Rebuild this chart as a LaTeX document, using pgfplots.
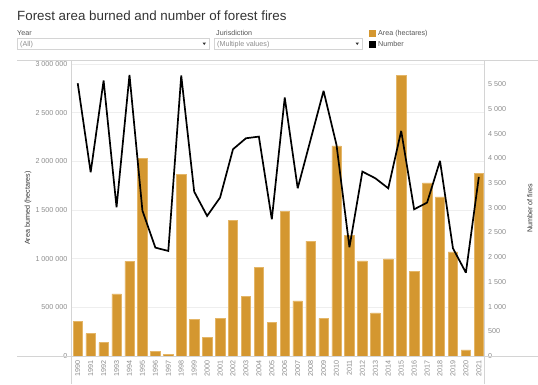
\documentclass[border=0pt]{standalone}
\usepackage{fontspec}
\setmainfont{Liberation Sans}
\usepackage{pgfplots}
\pgfplotsset{compat=1.18}
\definecolor{barc}{RGB}{212,151,48}
\definecolor{baredge}{RGB}{228,182,104}
\definecolor{tickc}{RGB}{140,140,140}
\definecolor{gridc}{RGB}{238,238,238}
\definecolor{axc}{RGB}{212,212,212}
\definecolor{titc}{RGB}{51,51,51}
\definecolor{labc}{RGB}{85,85,85}
\newcommand{\sm}{\fontsize{7.2}{8}\selectfont}
\begin{document}
\begin{tikzpicture}[x=1bp,y=1bp]
\useasboundingbox (0,0) rectangle (538,384);
% title
\node[anchor=base west, font=\fontsize{13.4}{14}\selectfont, text=titc, inner sep=0] at (17,384-20) {Forest area burned and number of forest fires};
% filters
\node[anchor=base west, font=\sm, text=labc, inner sep=0] at (17,384-35) {Year};
\draw[axc, line width=0.6bp] (17,384-38) rectangle (209,384-49);
\node[anchor=base west, font=\sm, text=tickc, inner sep=0] at (20,384-46.3) {(All)};
\fill[titc] (202.5,384-42.5) -- (206,384-42.5) -- (204.25,384-45) -- cycle;
\node[anchor=base west, font=\sm, text=labc, inner sep=0] at (216,384-35) {Jurisdiction};
\draw[axc, line width=0.6bp] (214,384-38) rectangle (362,384-49);
\node[anchor=base west, font=\sm, text=tickc, inner sep=0] at (217,384-46.3) {(Multiple values)};
\fill[titc] (355.5,384-42.5) -- (359,384-42.5) -- (357.25,384-45) -- cycle;
% legend
\fill[barc] (369,384-30) rectangle (376,384-37);
\node[anchor=base west, font=\sm, text=labc, inner sep=0] at (378,384-35.5) {Area (hectares)};
\fill[black] (369,384-41) rectangle (376,384-48);
\node[anchor=base west, font=\sm, text=labc, inner sep=0] at (378,384-46.5) {Number};

\begin{axis}[
  at={(71bp,28bp)}, anchor=south west, scale only axis,
  width=413bp, height=296bp,
  xmin=1989.48, xmax=2021.4, ymin=0, ymax=3040000,
  axis line style={draw=none}, major tick length=0pt,
  xtick={1990,...,2021},
  xticklabel style={font=\sm, text=tickc, inner sep=0pt, rotate=90, anchor=east, /pgf/number format/1000 sep={}},
  xticklabel shift=4bp,
  ytick={0,500000,...,3000000},
  scaled y ticks=false,
  yticklabel style={font=\sm, text=tickc, inner sep=0pt, anchor=east,
    /pgf/number format/fixed, /pgf/number format/1000 sep={\hspace{0.26em}}},
  yticklabel shift=3.5bp,
  /pgf/number format/assume math mode=true,
  ymajorgrids, grid style={gridc, line width=0.6bp},
  ylabel={Area burned (hectares)},
  every axis y label/.style={at={(axis description cs:-0.104,0.5)}, rotate=90, anchor=center, font=\sm, text=titc},
]
\addplot[ybar, bar width=0.73, fill=barc, draw=baredge, line width=0.5bp] coordinates {
(1990,352000) (1991,229000) (1992,137000) (1993,639000) (1994,971000) (1995,2033000)
(1996,51000) (1997,14000) (1998,1863000) (1999,379000) (2000,188000) (2001,386000)
(2002,1391000) (2003,615000) (2004,912000) (2005,345000) (2006,1487000) (2007,567000)
(2008,1179000) (2009,386000) (2010,2157000) (2011,1241000) (2012,977000) (2013,444000)
(2014,998000) (2015,2884000) (2016,868000) (2017,1777000) (2018,1634000) (2019,1070000)
(2020,62000) (2021,1876000)
};
\end{axis}

\begin{axis}[
  at={(71bp,28bp)}, anchor=south west, scale only axis,
  width=413bp, height=296bp,
  xmin=1989.48, xmax=2021.4, ymin=0, ymax=5990,
  axis line style={draw=none}, major tick length=0pt,
  xtick=\empty,
  axis y line*=right,
  ytick={0,500,...,5500},
  yticklabel style={font=\sm, text=tickc, inner sep=0pt, anchor=west,
    /pgf/number format/fixed, /pgf/number format/1000 sep={\hspace{0.26em}}},
  yticklabel shift=4bp,
  /pgf/number format/assume math mode=true,
  ylabel={Number of fires},
  every axis y label/.style={at={(axis description cs:1.111,0.5)}, rotate=90, anchor=center, font=\sm, text=titc},
]
\addplot[black, line width=1.7bp, line join=miter, miter limit=3] coordinates {
(1990,5520) (1991,3718) (1992,5574) (1993,3010) (1994,5689) (1995,2942)
(1996,2193) (1997,2126) (1998,5675) (1999,3327) (2000,2834) (2001,3205)
(2002,4184) (2003,4406) (2004,4440) (2005,2767) (2006,5230) (2007,3394)
(2008,4380) (2009,5365) (2010,4272) (2011,2200) (2012,3732) (2013,3597)
(2014,3394) (2015,4555) (2016,2969) (2017,3104) (2018,3948) (2019,2180)
(2020,1687) (2021,3624)
};
\end{axis}
% frame lines
\draw[axc, line width=0.6bp] (17,324) -- (538,324);
\draw[axc, line width=0.6bp] (17,28) -- (538,28);
\draw[axc, line width=0.6bp] (71,0) -- (71,324);
\draw[axc, line width=0.6bp] (484,0) -- (484,324);
\end{tikzpicture}
\end{document}
